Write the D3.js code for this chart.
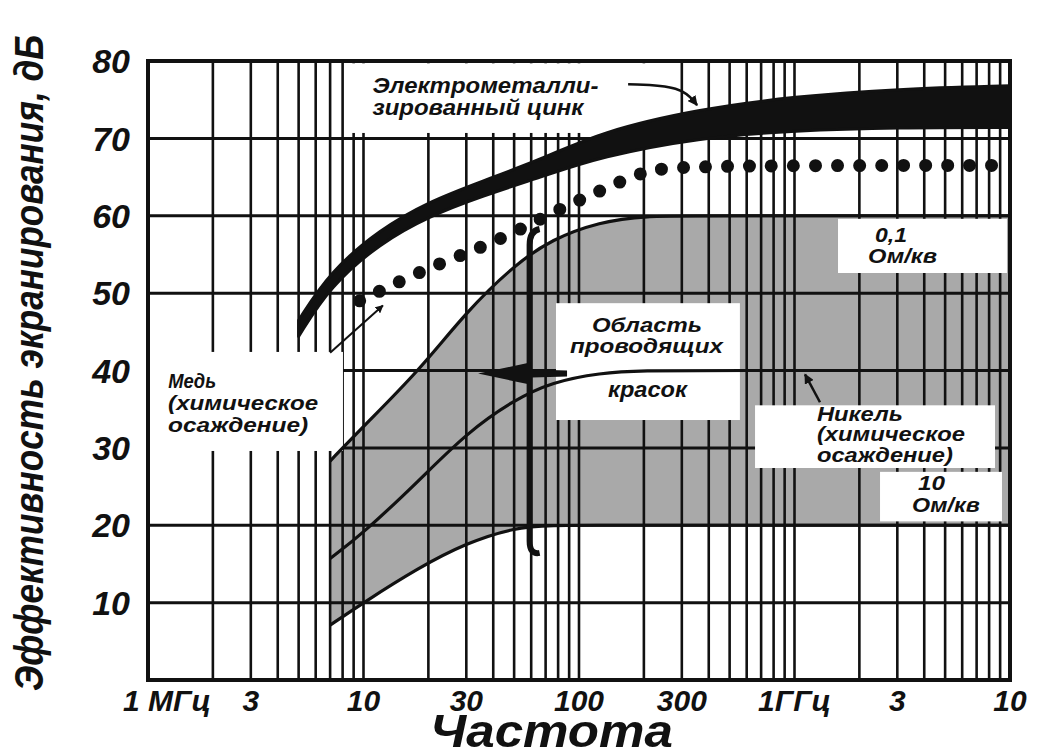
<!DOCTYPE html>
<html>
<head>
<meta charset="utf-8">
<script src="https://cdn.jsdelivr.net/npm/d3@7"></script>
<style>
  body { margin: 0; background: #fff; }
  text { font-family: "Liberation Sans", Arial, sans-serif; font-style: italic; font-weight: bold; fill: #111; }
</style>
</head>
<body>
<svg id="chart" width="1038" height="756"></svg>
<script>
// Axis ticks
var freqTicks = [1, 3, 10, 30, 100, 300, 1000, 3000, 10000];   // MHz
var freqLabels = ["1 МГц", "3", "10", "30", "100", "300", "1ГГц", "3", "10"];
var dbTicks = [10, 20, 30, 40, 50, 60, 70, 80];

// Electro-metallized zinc: band between lower and upper edge (dB)
var zincFreq = [5, 7, 12, 20, 35, 70, 125, 360, 1000, 3000, 10000];
var zincLow  = [44.4, 50.9, 56.5, 59.9, 62.5, 65.2, 67.6, 70.1, 71.0, 71.4, 71.4];
var zincHigh = [46.5, 52.8, 58.3, 61.8, 64.4, 67.5, 70.8, 73.8, 75.4, 76.4, 76.8];

// Copper (chemical deposition) - dotted curve
var copperFreq = [9.6, 20, 34, 56, 86, 130, 200, 290, 10000];
var copperDb   = [49.0, 53.3, 55.7, 58.5, 61.2, 63.4, 65.8, 66.5, 66.5];

// Conductive paints: 0.1, 1 and 10 Ohm/sq
var paintFreq = [7, 10, 18, 30, 50, 75, 125, 200, 400, 10000];
var paint01   = [28.3, 32.8, 39.9, 47.6, 53.6, 57.0, 59.2, 60, 60, 60];
var paint1    = [15.7, 19.0, 25.7, 31.9, 36.2, 38.5, 39.7, 40, 40, 40];
var paint10   = [7.1, 10.0, 14.5, 17.7, 19.7, 20, 20, 20, 20, 20];

var svg_width = 1038, svg_height = 756;
var margin = {top: 61, right: 28, bottom: 76, left: 148};
var width = svg_width - margin.left - margin.right;
var height = svg_height - margin.top - margin.bottom;

var svg = d3.select("#chart");
var defs = svg.append("defs");
defs.append("marker").attr("id", "head")
    .attr("viewBox", "0 0 10 10").attr("refX", 9).attr("refY", 5)
    .attr("markerWidth", 4).attr("markerHeight", 4).attr("orient", "auto")
  .append("path").attr("d", "M0,0 L10,5 L0,10 Z").attr("fill", "#111");

var g = svg.append("g").attr("transform", `translate(${margin.left}, ${margin.top})`);

var x = d3.scaleLog().domain([1, 10000]).range([0, width]);
var y = d3.scaleLinear().domain([0, 80]).range([height, 0]);

// shaded area of conductive paints (between 0.1 and 10 Ohm/sq)
var paintRows = paintFreq.map((f, i) => ({f: f, hi: paint01[i], mid: paint1[i], lo: paint10[i]}));
g.append("path")
  .datum(paintRows)
  .attr("fill", "#a9a9a9")
  .attr("d", d3.area().x(d => x(d.f)).y0(d => y(d.lo)).y1(d => y(d.hi)).curve(d3.curveBasis));

// log grid
var gridFreqs = [];
[1, 10, 100, 1000].forEach(function(dec) {
  for (var k = 1; k < 10; k++) gridFreqs.push(dec * k);
});
g.append("g").selectAll("line").data(gridFreqs).enter().append("line")
  .attr("x1", d => x(d)).attr("x2", d => x(d))
  .attr("y1", 0).attr("y2", height)
  .attr("stroke", "#111").attr("stroke-width", 2.6);
g.append("g").selectAll("line").data(dbTicks.slice(0, -1)).enter().append("line")
  .attr("x1", 0).attr("x2", width)
  .attr("y1", d => y(d)).attr("y2", d => y(d))
  .attr("stroke", "#111").attr("stroke-width", 3);

// white label boxes (frequency range, dB range)
var boxes = [
  [8.2, 264, 79.7, 70.7],
  [1.02, 8.03, 42.4, 29.6],
  [1592, 9680, 59.6, 52.6],
  [78.2, 558, 48.7, 33.6],
  [656, 8520, 35.5, 27.4],
  [2494, 9180, 26.9, 20.5]
];
g.append("g").selectAll("rect").data(boxes).enter().append("rect")
  .attr("x", d => x(d[0])).attr("width", d => x(d[1]) - x(d[0]))
  .attr("y", d => y(d[2])).attr("height", d => y(d[3]) - y(d[2]))
  .attr("fill", "#fff");

// paint curves
var curveLine = key => d3.line().x(d => x(d.f)).y(d => y(d[key])).curve(d3.curveBasis);
["hi", "mid", "lo"].forEach(function(key) {
  g.append("path").datum(paintRows)
    .attr("fill", "none").attr("stroke", "#111").attr("stroke-width", 3.2)
    .attr("d", curveLine(key));
});

// zinc band
var zincRows = zincFreq.map((f, i) => ({f: f, lo: zincLow[i], hi: zincHigh[i]}));
g.append("path").datum(zincRows)
  .attr("fill", "#111").attr("stroke", "#111").attr("stroke-width", 3).attr("stroke-linejoin", "round")
  .attr("d", d3.area().x(d => x(d.f)).y0(d => y(d.lo)).y1(d => y(d.hi)).curve(d3.curveBasis));

// copper dotted curve
var copperRows = copperFreq.map((f, i) => ({f: f, v: copperDb[i]}));
g.append("path").datum(copperRows)
  .attr("fill", "none").attr("stroke", "#111")
  .attr("stroke-width", 13).attr("stroke-linecap", "round")
  .attr("stroke-dasharray", "0 22")
  .attr("d", d3.line().x(d => x(d.f)).y(d => y(d.v)).curve(d3.curveBasis));

// frame
g.append("rect").attr("x", 0).attr("y", 0).attr("width", width).attr("height", height)
  .attr("fill", "none").attr("stroke", "#111").attr("stroke-width", 4);

// arrows
var pt = p => [x(p[0]), y(p[1])];
var thin = d3.line().curve(d3.curveBasis);
g.append("path").attr("d", d3.line()([pt([7.0, 42.3]), pt([12.3, 48.4])]))
  .attr("stroke", "#111").attr("stroke-width", 2).attr("fill", "none").attr("marker-end", "url(#head)");
g.append("path").attr("d", thin([pt([169, 77.0]), pt([300, 76.8]), pt([353, 74.3])]))
  .attr("stroke", "#111").attr("stroke-width", 2.5).attr("fill", "none").attr("marker-end", "url(#head)");
g.append("path").attr("d", d3.line()([pt([1313, 35.9]), pt([1119, 39.5])]))
  .attr("stroke", "#111").attr("stroke-width", 2.5).attr("fill", "none").attr("marker-end", "url(#head)");

// bracket of the paint region and big arrow
var bx = x(59), bTop = y(57), bBot = y(17.2);
g.append("path")
  .attr("d", `M${bx + 10},${bTop - 10} Q${bx},${bTop - 8} ${bx},${bTop + 6} L${bx},${bBot - 6} Q${bx},${bBot + 8} ${bx + 10},${bBot + 6}`)
  .attr("fill", "none").attr("stroke", "#111").attr("stroke-width", 6);
var ay = y(39.6), tipX = x(34), tailX = x(88);
g.append("path")
  .attr("d", `M${tipX},${ay} L${tipX + 52},${ay - 11} L${tipX + 54},${ay - 4} L${tailX},${ay - 3} L${tailX},${ay + 3} L${tipX + 54},${ay + 4} L${tipX + 52},${ay + 11} Z`)
  .attr("fill", "#111");

// annotation texts: [text, freq, dB, font size, length]
var notes = [
  ["Электрометалли-", 11, 75.86, 22, 226],
  ["зированный цинк", 11, 73.0, 22, 211],
  ["Медь", 1.24, 37.74, 20, 48],
  ["(химическое", 1.24, 34.9, 20, 150],
  ["осаждение)", 1.24, 32.05, 20, 140],
  ["0,1", 2363, 56.6, 21, 32],
  ["Ом/кв", 2193, 53.9, 21, 69],
  ["Область", 114.9, 44.95, 21, 110],
  ["проводящих", 90.8, 42.3, 21, 153],
  ["красок", 136.3, 36.6, 22, 79],
  ["Никель", 1271, 33.5, 20, 86],
  ["(химическое", 1271, 30.9, 20, 148],
  ["осаждение)", 1271, 28.2, 20, 136],
  ["10", 3741, 24.6, 21, 27],
  ["Ом/кв", 3508, 21.7, 21, 68]
];
g.append("g").selectAll("text").data(notes).enter().append("text")
  .attr("x", d => x(d[1])).attr("y", d => y(d[2]))
  .attr("font-size", d => d[3] + "px")
  .attr("textLength", d => d[4]).attr("lengthAdjust", "spacingAndGlyphs")
  .text(d => d[0]);

// tick labels
g.append("g").selectAll("text").data(dbTicks).enter().append("text")
  .attr("x", -18).attr("y", d => y(d)).attr("dy", "0.36em")
  .attr("text-anchor", "end").attr("font-size", "34px")
  .text(d => d);
g.append("g").selectAll("text").data(freqTicks).enter().append("text")
  .attr("x", d => x(d)).attr("y", height + 31)
  .attr("dx", (d, i) => i === 0 ? 19 : 0)
  .attr("text-anchor", "middle").attr("font-size", "30px")
  .text((d, i) => freqLabels[i]);

// axis titles
svg.append("text")
  .attr("transform", "rotate(-90)")
  .attr("x", -363).attr("y", 43)
  .attr("text-anchor", "middle").attr("font-size", "40px").attr("font-weight", "normal")
  .attr("textLength", 656).attr("lengthAdjust", "spacingAndGlyphs")
  .text("Эффективность экранирования, дБ");
svg.append("text")
  .attr("x", 430).attr("y", 747)
  .attr("font-size", "46px").attr("font-weight", "normal")
  .attr("textLength", 243).attr("lengthAdjust", "spacingAndGlyphs")
  .text("Частота");
</script>
</body>
</html>
